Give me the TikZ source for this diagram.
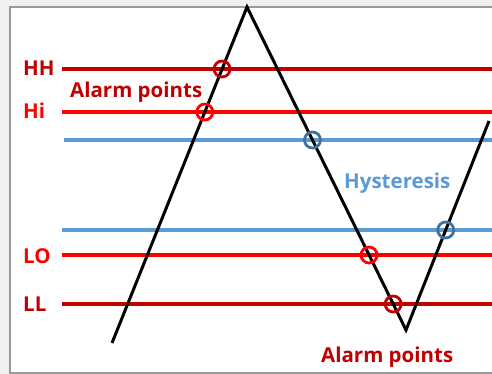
\documentclass[tikz,border=0pt]{standalone}
\usepackage{fontspec}
\setmainfont{Open Sans}
\usepackage{xcolor}
\usetikzlibrary{positioning, calc}
\definecolor{darkred}{HTML}{C00000}
\definecolor{brightred}{HTML}{FF0000}
\definecolor{hystblue}{HTML}{5B9BD5}
\definecolor{ringblue}{HTML}{41719C}
\definecolor{panelgray}{HTML}{F0F0F0}
\tikzstyle{level} = [line width=3.4pt]
\tikzstyle{signal} = [line width=3pt, black]

\begin{document}
\begin{tikzpicture}[
    x=1pt, y=-1pt,
    every node/.style={font=\bfseries\fontsize{20.5}{24}\selectfont, inner sep=0pt},
    ring/.style={circle, draw, line width=2.8pt, minimum size=16pt, inner sep=0pt},
    tag/.style={anchor=base west}
]
    % Frame
    \fill[panelgray] (0,0) rectangle (492,374);
    \useasboundingbox (0,0) rectangle (492,374);
    \draw[line width=1.5pt, gray!80, fill=white] (10,7) rectangle (520,373);

    % Limit lines
    \draw[level, darkred] (62,69) -- (492,69);
    \draw[level, brightred] (62,112) -- (492,112);
    \draw[level, hystblue] (64,140) -- (492,140);
    \draw[level, hystblue] (62,230) -- (492,230);
    \draw[level, brightred] (62,255) -- (492,255);
    \draw[level, darkred] (62,304) -- (492,304);

    % Process value
    \coordinate (start) at (112,343);
    \coordinate (peak) at (247,7);
    \coordinate (valley) at (406,330);
    \coordinate (finish) at (489,121);
    \draw[signal] (start) -- (peak) -- (valley) -- (finish);

    % Crossing points
    \node[ring, darkred] (hhpt) at ($(start)!274/336!(peak)$) {};
    \node[ring, brightred] (hipt) at ($(start)!231/336!(peak)$) {};
    \node[ring, ringblue] (offpt) at ($(peak)!133/323!(valley)$) {};
    \node[ring, brightred] (lopt) at ($(peak)!248/323!(valley)$) {};
    \node[ring, darkred] (llpt) at ($(peak)!297/323!(valley)$) {};
    \node[ring, ringblue] (onpt) at ($(valley)!100/209!(finish)$) {};

    % Labels
    \node[tag, darkred] (hh) at (23,76) {HH};
    \node[tag, brightred] (hi) at (23,119) {Hi};
    \node[tag, brightred] (lo) at (23,263) {LO};
    \node[tag, darkred] (ll) at (23,311) {LL};
    \node[tag, darkred] (alarmtop) at (70,98) {Alarm points};
    \node[tag, hystblue] (hyst) at (344,188) {Hysteresis};
    \node[tag, darkred] (alarmbot) at (321,362) {Alarm points};
\end{tikzpicture}
\end{document}
